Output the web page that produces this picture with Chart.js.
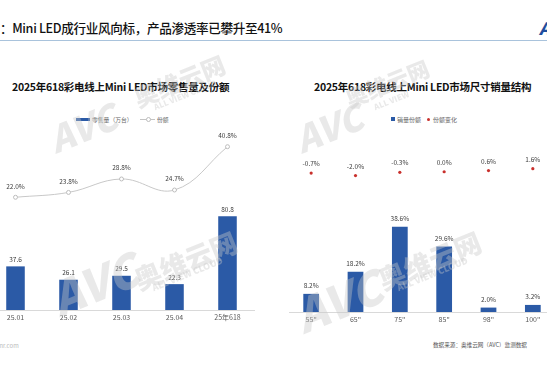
<!DOCTYPE html>
<html><head><meta charset="utf-8">
<script src="https://cdn.jsdelivr.net/npm/chart.js@4"></script>
<style>
html,body{margin:0;padding:0;background:#fff;}
body{width:547px;height:365px;position:relative;overflow:hidden;font-family:"Noto Sans CJK SC","Noto Sans",sans-serif;}
.abs{position:absolute;white-space:nowrap;}
#hdr{left:0;top:18px;font-size:12.6px;color:#111;font-weight:500;letter-spacing:-0.35px;}
#hline{left:0;top:40px;width:547px;height:1px;background:#a9c3dc;}
#logo{left:539px;top:15px;font-size:17px;font-weight:900;font-style:italic;color:#1f4e9e;}
.ttl{top:79px;font-size:10.5px;font-weight:700;color:#111;letter-spacing:-0.25px;}
.lg{top:114.5px;font-size:5.8px;color:#666;}
.wm{color:rgba(200,200,200,0.40);font-weight:900;transform-origin:left top;z-index:5;}
canvas{position:absolute;}
</style></head>
<body>
<div id="hdr" class="abs">：Mini LED成行业风向标，产品渗透率已攀升至41%</div>
<div id="hline" class="abs"></div>
<div id="logo" class="abs">A</div>

<div class="abs ttl" style="left:12px;">2025年618彩电线上Mini LED市场零售量及份额</div>
<div class="abs ttl" style="left:314px;">2025年618彩电线上Mini LED市场尺寸销量结构</div>

<div class="abs" style="left:76px;top:118px;width:14px;height:3px;background:#2b5aa6;"></div>
<div class="abs lg" style="left:92px;">零售量（万台）</div>
<div class="abs" style="left:140px;top:119px;width:15px;height:1px;background:#c4c4c4;"></div>
<div class="abs" style="left:145.5px;top:117px;width:3px;height:3px;border:1px solid #bdbdbd;border-radius:50%;background:#fff;"></div>
<div class="abs lg" style="left:157px;">份额</div>

<div class="abs" style="left:391px;top:117px;width:4px;height:4px;background:#2b5aa6;"></div>
<div class="abs lg" style="left:397px;font-size:6px;">销量份额</div>
<div class="abs" style="left:427px;top:118px;width:3px;height:3px;background:#c9302c;border-radius:50%;"></div>
<div class="abs lg" style="left:433px;font-size:6px;">份额变化</div>

<div class="abs" style="left:-14px;top:341px;font-size:6px;color:#bbb;">avc-mr.com</div>
<div class="abs" style="left:433px;top:341px;font-size:5.6px;color:#555;">数据来源：奥维云网（AVC）监测数据</div>

<canvas id="c1" width="275" height="240" style="left:-16px;top:100px;"></canvas>
<canvas id="c2" width="274" height="242" style="left:285px;top:100px;"></canvas>

<div class="abs wm" style="left:40px;top:115px;font-size:36px;transform:rotate(-22deg);font-style:italic;">AVC</div>
<div class="abs wm" style="left:128px;top:82px;font-size:24px;transform:rotate(-22deg);">奥维云网</div>
<div class="abs wm" style="left:152px;top:102px;font-size:8px;transform:rotate(-22deg);">ALL VIEW CLOUD</div>
<div class="abs wm" style="left:40px;top:268px;font-size:46px;transform:rotate(-22deg);font-style:italic;">AVC</div>
<div class="abs wm" style="left:128px;top:262px;font-size:27px;transform:rotate(-22deg);">奥维云网</div>
<div class="abs wm" style="left:150px;top:282px;font-size:9px;transform:rotate(-22deg);">ALL VIEW CLOUD</div>
<div class="abs wm" style="left:286px;top:115px;font-size:36px;transform:rotate(-22deg);font-style:italic;">AVC</div>
<div class="abs wm" style="left:340px;top:84px;font-size:22px;transform:rotate(-22deg);">奥维云网</div>
<div class="abs wm" style="left:372px;top:102px;font-size:8px;transform:rotate(-22deg);">ALL VIEW</div>
<div class="abs wm" style="left:284px;top:285px;font-size:46px;transform:rotate(-22deg);font-style:italic;">AVC</div>
<div class="abs wm" style="left:372px;top:262px;font-size:27px;transform:rotate(-22deg);">奥维云网</div>
<div class="abs wm" style="left:395px;top:282px;font-size:9px;transform:rotate(-22deg);">ALL VIEW CLOUD</div>

<script>
// ---- data ----
const leftCategories = ['25.01', '25.02', '25.03', '25.04', '25年618'];
const retailVolume = [37.6, 26.1, 29.5, 22.3, 80.8];
const retailShare = [22.0, 23.8, 28.8, 24.7, 40.8];

const sizeCategories = ['55"', '65"', '75"', '85"', '98"', '100"'];
const sizeShare = [8.2, 18.2, 38.6, 29.6, 2.0, 3.2];
const shareChange = [-0.7, -2.0, -0.3, 0.0, 0.6, 1.6];

const FONT = '"Noto Sans CJK SC","Noto Sans",sans-serif';
const BLUE = '#2b5aa6';

const valueLabels = {
  id: 'valueLabels',
  afterDatasetsDraw(chart) {
    const ctx = chart.ctx;
    chart.data.datasets.forEach((ds, i) => {
      const meta = chart.getDatasetMeta(i);
      const fmt = ds.labelFormat;
      ctx.save();
      ctx.font = (ds.labelSize || 7) + 'px ' + FONT;
      ctx.fillStyle = ds.labelColor || '#404040';
      ctx.textAlign = 'center';
      ctx.textBaseline = 'middle';
      meta.data.forEach((el, j) => {
        ctx.fillText(fmt(ds.data[j]), el.x, el.y - ds.labelOffset);
      });
      ctx.restore();
    });
  }
};

function xAxis() {
  return {
    type: 'category',
    offset: true,
    grid: { display: false, drawTicks: false },
    border: { display: true, color: '#d9d9d9', width: 1 },
    ticks: { color: '#595959', font: { size: 7, family: FONT }, padding: 3, maxRotation: 0, autoSkip: false },
    afterFit: (s) => { s.height = 30; }
  };
}

const common = {
  responsive: false,
  animation: false,
  devicePixelRatio: 1,
  layout: { padding: 0 },
  plugins: { legend: { display: false }, title: { display: false }, tooltip: { enabled: false } }
};

new Chart(document.getElementById('c1'), {
  type: 'bar',
  data: {
    labels: leftCategories,
    datasets: [
      {
        type: 'line', label: '份额', data: retailShare, yAxisID: 'y2',
        borderColor: '#c8c8c8', borderWidth: 1, tension: 0.4,
        pointRadius: 2, pointBackgroundColor: '#fff', pointBorderColor: '#bdbdbd', pointBorderWidth: 1,
        labelFormat: v => v.toFixed(1) + '%', labelOffset: 11, labelSize: 6.5
      },
      {
        type: 'bar', label: '零售量（万台）', data: retailVolume, yAxisID: 'y',
        backgroundColor: BLUE, categoryPercentage: 1, barPercentage: 0.35,
        labelFormat: v => v.toFixed(1), labelOffset: 7, labelSize: 6.5
      }
    ]
  },
  options: Object.assign({}, common, {
    scales: {
      x: xAxis(),
      y: { display: false, min: 0, max: 176.7 },
      y2: { display: false, min: -19.9, max: 56.3 }
    }
  }),
  plugins: [valueLabels]
});

new Chart(document.getElementById('c2'), {
  type: 'bar',
  data: {
    labels: sizeCategories,
    datasets: [
      {
        type: 'line', label: '份额变化', data: shareChange, yAxisID: 'y2', showLine: false,
        pointRadius: 1.6, pointBackgroundColor: '#c9302c', pointBorderColor: '#c9302c', pointBorderWidth: 0,
        labelFormat: v => v.toFixed(1) + '%', labelOffset: 9.5, labelSize: 6.5
      },
      {
        type: 'bar', label: '销量份额', data: sizeShare, yAxisID: 'y',
        backgroundColor: BLUE, categoryPercentage: 1, barPercentage: 0.355,
        labelFormat: v => v.toFixed(1) + '%', labelOffset: 8, labelSize: 6.5
      }
    ]
  },
  options: Object.assign({}, common, {
    scales: {
      x: xAxis(),
      y: { display: false, min: 0, max: 94.06 },
      y2: { display: false, min: -73.7, max: 35.6 }
    }
  }),
  plugins: [valueLabels]
});
</script>
</body></html>
